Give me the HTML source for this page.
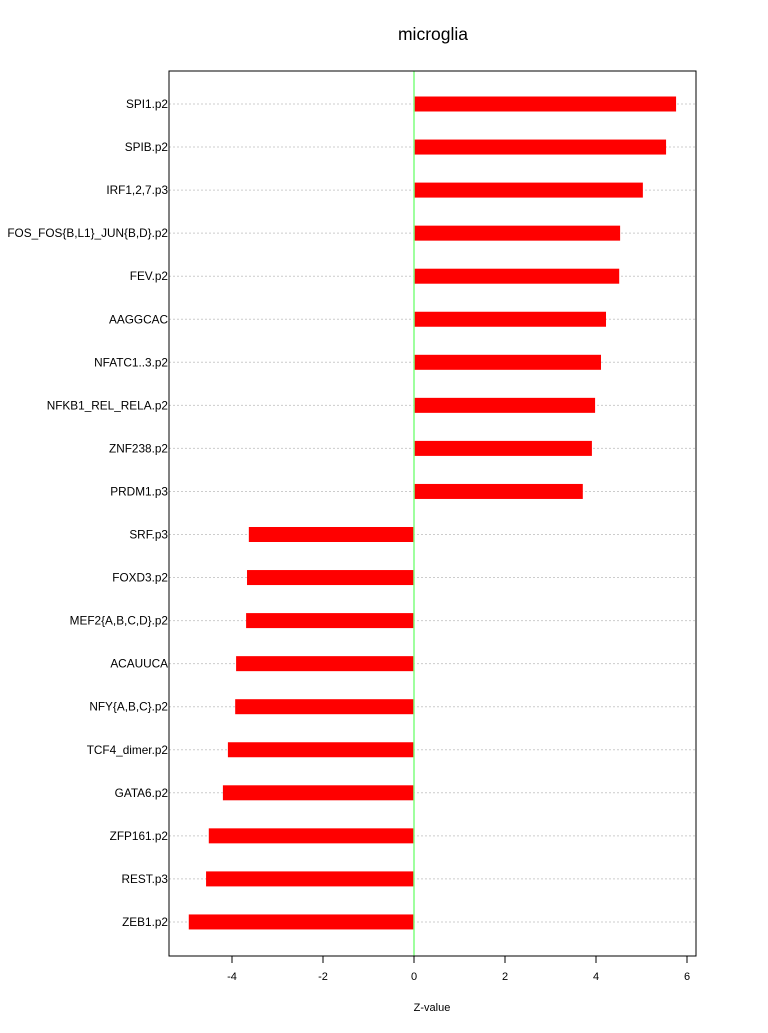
<!DOCTYPE html>
<html><head><meta charset="utf-8"><style>
body{margin:0;background:#fff;}
svg text{font-family:"Liberation Sans",sans-serif;}
</style></head><body>
<svg id="chart" width="768" height="1028" xmlns="http://www.w3.org/2000/svg">
<rect width="768" height="1028" fill="#fff"/>
<text x="433" y="40" font-size="17.5" text-anchor="middle">microglia</text>
<g id="grid"></g><g id="bars"></g><g id="labels"></g><g id="xaxis"></g>
<rect x="169" y="71" width="527" height="885" fill="none" stroke="#000" stroke-width="1"/>
<text x="432" y="1011" font-size="11" text-anchor="middle">Z-value</text>
</svg>
<script>
const categories=["SPI1.p2","SPIB.p2","IRF1,2,7.p3","FOS_FOS{B,L1}_JUN{B,D}.p2","FEV.p2","AAGGCAC","NFATC1..3.p2","NFKB1_REL_RELA.p2","ZNF238.p2","PRDM1.p3","SRF.p3","FOXD3.p2","MEF2{A,B,C,D}.p2","ACAUUCA","NFY{A,B,C}.p2","TCF4_dimer.p2","GATA6.p2","ZFP161.p2","REST.p3","ZEB1.p2"];
const values=[5.76,5.54,5.03,4.53,4.51,4.22,4.11,3.98,3.91,3.71,-3.63,-3.67,-3.69,-3.91,-3.93,-4.09,-4.20,-4.51,-4.57,-4.95];
const ticks=[-4,-2,0,2,4,6];
const NS="http://www.w3.org/2000/svg";
const x=v=>414+v*45.5;
const y=i=>104+i*43.05;
function mk(t,a,p){const e=document.createElementNS(NS,t);for(const k in a)e.setAttribute(k,a[k]);document.getElementById(p).appendChild(e);return e;}
categories.forEach((c,i)=>{
  const g=mk("line",{x1:169,x2:696,y1:y(i),y2:y(i),stroke:"#ccc","stroke-dasharray":"2,2"},"grid");
  
  
  const v=values[i];
  const b=mk("rect",{x:Math.min(x(0),x(v)),y:y(i)-7.5,width:Math.abs(x(v)-x(0)),height:15,fill:"#ff0000"},"bars");
  
  
  const t=mk("text",{x:168,y:y(i)+4,"font-size":"11.8","text-anchor":"end"},"labels");
  t.textContent=c;
  
  
});
const z=mk("line",{x1:x(0),x2:x(0),y1:71,y2:956,stroke:"#7fff7f","stroke-width":1.5},"bars");


const ax=mk("line",{x1:x(ticks[0]),x2:x(ticks[ticks.length-1]),y1:956,y2:956,stroke:"#000"},"xaxis");


ticks.forEach(t=>{
  const l=mk("line",{x1:x(t),x2:x(t),y1:956,y2:963,stroke:"#000"},"xaxis");
  
  
  const tx=mk("text",{x:x(t),y:980,"font-size":"11","text-anchor":"middle"},"xaxis");
  tx.textContent=t;
  
  
});
</script>
</body></html>
